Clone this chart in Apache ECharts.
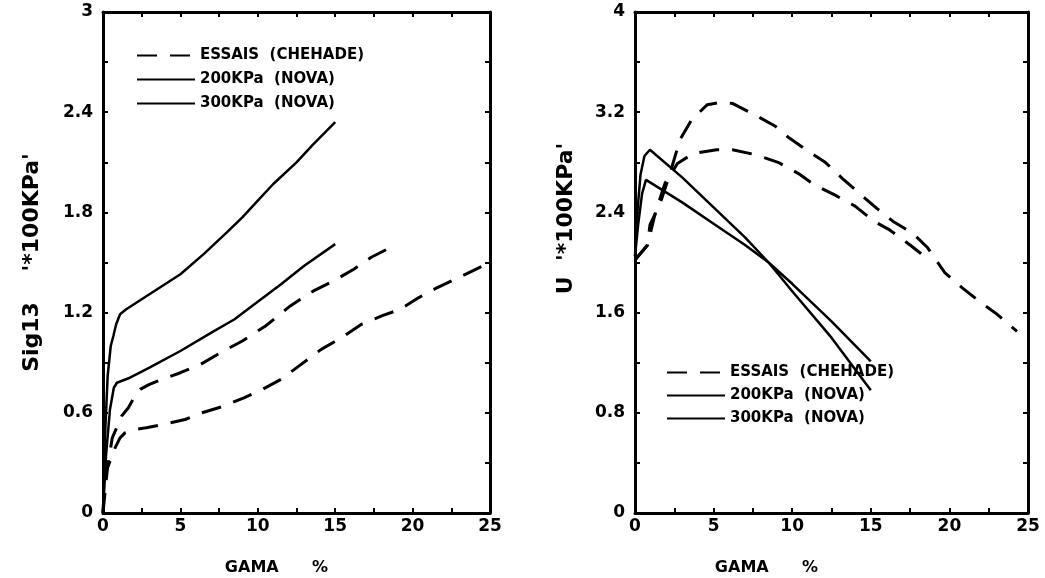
<!DOCTYPE html>
<html>
<head>
<meta charset="utf-8">
<script src="https://cdn.jsdelivr.net/npm/echarts@6/dist/echarts.min.js"></script>
<style>
  html, body { margin: 0; padding: 0; background: #fff; }
  #chart { width: 1045px; height: 578px; }
</style>
</head>
<body>
<div id="chart"></div>
<script>
// ---- Left panel: Sig13 versus GAMA (%) ----
const sigEssaisA = [[0,0],[0.3,0.28],[0.6,0.45],[0.88,0.51],[1.2,0.58],[1.64,0.63],[2.0,0.69],[2.4,0.74],[3.0,0.77],[3.8,0.80],[5.0,0.84],[6.3,0.89],[7.6,0.96],[9.0,1.03],[10.5,1.12],[12.1,1.24],[13.6,1.33],[14.9,1.39],[16.2,1.46],[17.3,1.53],[19.0,1.61]];
const sigEssaisB = [[0,0],[0.1,0.2],[0.24,0.26],[0.5,0.32],[0.78,0.39],[1.1,0.45],[1.42,0.48],[2.0,0.50],[2.8,0.51],[3.9,0.53],[5.3,0.56],[6.4,0.60],[7.8,0.64],[9.1,0.69],[10.3,0.74],[11.5,0.80],[12.8,0.89],[14.1,0.98],[15.4,1.05],[16.7,1.13],[18.0,1.18],[19.2,1.22],[20.4,1.29],[21.6,1.35],[23.2,1.42],[25,1.5]];
const sig200 = [[0,0],[0.2,0.35],[0.45,0.62],[0.7,0.75],[0.9,0.78],[1.74,0.81],[3,0.87],[5,0.97],[7,1.08],[8.5,1.16],[9.5,1.23],[11.5,1.37],[13,1.48],[15,1.61]];
const sig300 = [[0,0],[0.15,0.5],[0.3,0.82],[0.5,1.0],[0.67,1.06],[0.85,1.13],[1.1,1.19],[1.5,1.22],[2.5,1.28],[4,1.37],[5,1.43],[6.5,1.55],[8,1.68],[9,1.77],[10,1.87],[11,1.97],[12.5,2.1],[13.5,2.2],[15,2.34]];

// ---- Right panel: U versus GAMA (%) ----
const uEssaisA = [[0,2.02],[0.4,2.08],[0.8,2.14],[0.95,2.3],[1.6,2.47],[2.2,2.7],[2.86,2.98],[3.6,3.14],[4.6,3.26],[5.5,3.28],[6.2,3.27],[7.6,3.18],[8.9,3.09],[9.75,3.0],[11.0,2.89],[12.1,2.8],[13.2,2.67],[14.2,2.56],[15.4,2.43],[16.4,2.33],[17.7,2.23],[18.6,2.12],[19.7,1.92],[20.8,1.80],[22.0,1.68],[23.0,1.59],[24.3,1.45]];
const uEssaisB = [[0,2.02],[0.4,2.08],[0.8,2.14],[1.3,2.4],[1.9,2.63],[2.7,2.79],[3.7,2.87],[5.2,2.9],[6.2,2.9],[7.7,2.86],[9.1,2.8],[10.4,2.71],[11.4,2.62],[12.7,2.54],[14.0,2.45],[15.2,2.33],[16.2,2.26],[17.5,2.14],[18.2,2.07]];
const u200 = [[0,2.05],[0.2,2.3],[0.45,2.55],[0.7,2.66],[3,2.48],[5,2.31],[7,2.14],[8.5,2.0],[10,1.83],[12.5,1.53],[15,1.21]];
const u300 = [[0,2.05],[0.15,2.4],[0.35,2.7],[0.6,2.85],[0.95,2.9],[3,2.68],[5,2.44],[7,2.2],[8.5,2.0],[10,1.77],[12.5,1.4],[15,0.98]];

// ---- Axis ranges and names ----
const gamaRange = [0, 25, 5];
const sigRange = [0, 3, 0.6];
const uRange = [0, 4, 0.8];
const xName = 'GAMA      %';
const sigName = "Sig13    '*100KPa'";
const uName = "U  '*100KPa'";
const nameEssais = 'ESSAIS  (CHEHADE)';
const name200 = '200KPa  (NOVA)';
const name300 = '300KPa  (NOVA)';

const FONT = 'DejaVu Sans';
const BLACK = '#000';

function axis(kind, gridIndex, range, position, labelled, extra) {
  const a = {
    type: 'value',
    gridIndex: gridIndex,
    position: position,
    min: range[0], max: range[1], interval: range[2],
    axisLine: { show: true, onZero: false, lineStyle: { color: BLACK, width: 3 } },
    axisTick: { show: true, inside: true, length: 5, lineStyle: { color: BLACK, width: 2 } },
    minorTick: { show: true, splitNumber: 2, length: 5, lineStyle: { color: BLACK, width: 2 } },
    splitLine: { show: false },
    axisLabel: {
      show: labelled,
      color: BLACK, fontFamily: FONT, fontWeight: 'bold', fontSize: 17,
      margin: kind === 'x' ? 5 : 10
    }
  };
  return Object.assign(a, extra || {});
}

const nameStyle = { color: BLACK, fontFamily: FONT, fontWeight: 'bold' };

const xAxes = [
  axis('x', 0, gamaRange, 'bottom', true, {
    name: xName, nameLocation: 'middle', nameGap: 47,
    nameTextStyle: Object.assign({ fontSize: 16, padding: [0, 40, 0, 0] }, nameStyle)
  }),
  axis('x', 0, gamaRange, 'top', false),
  axis('x', 1, gamaRange, 'bottom', true, {
    name: xName, nameLocation: 'middle', nameGap: 47,
    nameTextStyle: Object.assign({ fontSize: 16, padding: [0, 130, 0, 0] }, nameStyle)
  }),
  axis('x', 1, gamaRange, 'top', false)
];

const yAxes = [
  axis('y', 0, sigRange, 'left', true, {
    name: sigName, nameLocation: 'middle', nameGap: 60,
    nameTextStyle: Object.assign({ fontSize: 22 }, nameStyle)
  }),
  axis('y', 0, sigRange, 'right', false),
  axis('y', 1, uRange, 'left', true, {
    name: uName, nameLocation: 'middle', nameGap: 58,
    nameTextStyle: Object.assign({ fontSize: 22, padding: [0, 0, 0, 88] }, nameStyle)
  }),
  axis('y', 1, uRange, 'right', false)
];

function curve(name, data, xi, yi, dashed) {
  return {
    name: name,
    type: 'line',
    xAxisIndex: xi,
    yAxisIndex: yi,
    data: data,
    symbol: 'none',
    silent: true,
    lineStyle: dashed
      ? { color: BLACK, width: 3, type: [20, 13] }
      : { color: BLACK, width: 2.5, type: 'solid' },
    itemStyle: { color: BLACK }
  };
}

const legendBase = {
  orient: 'vertical',
  itemWidth: 58,
  itemHeight: 14,
  itemGap: 9,
  selectedMode: false,
  data: [nameEssais, name200, name300],
  itemStyle: { opacity: 0 },
  textStyle: { color: BLACK, fontFamily: FONT, fontWeight: 'bold', fontSize: 15 }
};

const option = {
  animation: false,
  backgroundColor: '#fff',
  grid: [
    { left: 103, top: 12, width: 387, height: 501, outerBoundsMode: 'none' },
    { left: 635, top: 12, width: 393, height: 501, outerBoundsMode: 'none' }
  ],
  legend: [
    Object.assign({}, legendBase, { left: 131, top: 43 }),
    Object.assign({}, legendBase, { left: 661, top: 360, itemGap: 8 })
  ],
  xAxis: xAxes,
  yAxis: yAxes,
  series: [
    curve(nameEssais, sigEssaisA, 0, 0, true),
    curve(nameEssais, sigEssaisB, 0, 0, true),
    curve(name200, sig200, 0, 0, false),
    curve(name300, sig300, 0, 0, false),
    curve(nameEssais, uEssaisA, 2, 2, true),
    curve(nameEssais, uEssaisB, 2, 2, true),
    curve(name200, u200, 2, 2, false),
    curve(name300, u300, 2, 2, false)
  ]
};

const chart = echarts.init(document.getElementById('chart'), null, { renderer: 'canvas' });
chart.setOption(option);
</script>
</body>
</html>
